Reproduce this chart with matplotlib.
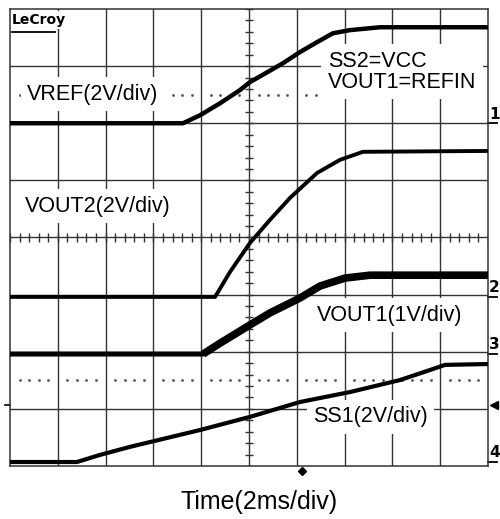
import numpy as np
import matplotlib
matplotlib.use('Agg')
import matplotlib.pyplot as plt

plt.rcParams['font.family'] = ['Liberation Sans', 'DejaVu Sans']

# Scope traces: time in ms, value in volts
vref_t = [0, 7.24, 7.95, 8.79, 9.62, 10.04, 11.42, 12.13, 12.85, 13.51, 14.23, 15.48, 20]
vref_v = [0, 0, 0.28, 0.70, 1.16, 1.44, 2.10, 2.49, 2.84, 3.15, 3.26, 3.36, 3.36]
vout2_t = [0, 8.58, 9.21, 10.04, 10.88, 11.72, 12.85, 13.81, 14.77, 20]
vout2_v = [0, 0, 0.88, 1.89, 2.70, 3.47, 4.34, 4.80, 5.08, 5.11]
vout1_t = [0, 8.08, 8.79, 10.04, 10.88, 12.13, 12.97, 14.02, 15.06, 20]
vout1_v = [0, 0, 0.19, 0.51, 0.72, 0.98, 1.19, 1.33, 1.38, 1.38]
ss1_t = [0, 2.80, 3.77, 5.02, 7.95, 10.04, 12.13, 14.23, 16.32, 17.57, 18.2, 20]
ss1_v = [0, 0, 0.25, 0.53, 1.12, 1.58, 2.10, 2.45, 2.87, 3.22, 3.40, 3.43]

# channel settings
ms_per_div = 2
volts_per_div = [2, 2, 1, 2]          # VREF, VOUT2, VOUT1, SS1
ground_div = [6.0, 2.96, 1.96, 0.07]  # ground marker position, divisions from bottom
channel_names = ['1', '2', '3', '4']
trigger_div = 1.07
trigger_time_div = 6.11

fig = plt.figure(figsize=(5, 5.19), dpi=100)
ax = fig.add_axes([0.02, 0.1021, 0.956, 0.8806])
ax.set_xlim(0, 10)
ax.set_ylim(0, 8)
ax.set_xticks([])
ax.set_yticks([])
for sp in ax.spines.values():
    sp.set_color('#333333')
    sp.set_linewidth(1.1)

gc = '#333333'
# graticule
for i in range(1, 10):
    ax.axvline(i, color=gc, lw=1.0, zorder=1)
for j in range(1, 8):
    ax.axhline(j, color=gc, lw=1.0, zorder=1)

# minor ticks on the centre lines
xs = np.arange(0, 10.01, 0.2)
ys = np.arange(0, 8.01, 0.2)
ax.vlines(xs, 4 - 0.08, 4 + 0.08, color=gc, lw=1.0, zorder=1)
ax.hlines(ys, 5 - 0.09, 5 + 0.09, color=gc, lw=1.0, zorder=1)

# dotted lines
dots = [x for x in xs if abs(x - round(x)) > 0.01]
for yd in [6.5, 1.5]:
    ax.plot(dots, [yd] * len(dots), ls='none', marker='s', ms=0.9, color='#555555', zorder=1)

# labels with white background
box = dict(boxstyle='square,pad=0.3', fc='white', ec='none')
fs = 15.5
ax.text(0.36, 6.51, 'VREF(2V/div)', fontsize=fs, va='center', ha='left', bbox=box, zorder=2)
ax.text(6.65, 6.9, 'SS2=VCC\nVOUT1=REFIN', fontsize=fs, va='center', ha='left',
        linespacing=1.0, bbox=box, zorder=2)
ax.text(0.31, 4.55, 'VOUT2(2V/div)', fontsize=fs, va='center', ha='left', bbox=box, zorder=2)
ax.text(6.42, 2.64, 'VOUT1(1V/div)', fontsize=fs, va='center', ha='left', bbox=box, zorder=2)
ax.text(6.34, 0.86, 'SS1(2V/div)', fontsize=fs, va='center', ha='left', bbox=box, zorder=2)

ax.text(0.04, 7.81, 'LeCroy', fontsize=10, fontweight='bold', va='center', ha='left',
        family='DejaVu Sans Condensed',
        bbox=dict(boxstyle='square,pad=0.15', fc='white', ec='none'), zorder=2)
ax.plot([0.04, 0.95], [7.6, 7.6], color='black', lw=1.3, zorder=2)

# traces
traces = [(vref_t, vref_v, 3.2), (vout2_t, vout2_v, 2.8), (vout1_t, vout1_v, 3.6), (ss1_t, ss1_v, 3.0)]
for k, (t, v, lw) in enumerate(traces):
    x = np.array(t) / ms_per_div
    y = ground_div[k] + np.array(v) / volts_per_div[k]
    ax.plot(x, y, color='black', lw=lw, solid_capstyle='butt', zorder=3)
# VOUT1 gets a wider noisy band once it starts ramping
x1 = np.array(vout1_t[1:]) / ms_per_div
y1 = ground_div[2] + np.array(vout1_v[1:]) / volts_per_div[2]
ax.plot(x1, y1, color='black', lw=5.5, solid_capstyle='butt', zorder=3)

# channel ground markers on the right
for k, name in enumerate(channel_names):
    g = ground_div[k]
    ax.text(10.02, g + 0.03, name, fontsize=11, fontweight='bold', va='bottom', ha='left',
            family='DejaVu Sans Condensed', clip_on=False)
    ax.plot([10.0, 10.19], [g, g], color='black', lw=1.3, clip_on=False)

# trigger markers
ax.plot(10.12, trigger_div, marker='<', ms=6, color='black', clip_on=False)
ax.plot([-0.1, 0], [trigger_div, trigger_div], color='black', lw=1.2, clip_on=False)
ax.plot(trigger_time_div, -0.08, marker='D', ms=4, color='black', clip_on=False)

fig.text(0.518, 0.033, 'Time(2ms/div)', ha='center', va='center', fontsize=18)

fig.savefig('out.png', dpi=100)
